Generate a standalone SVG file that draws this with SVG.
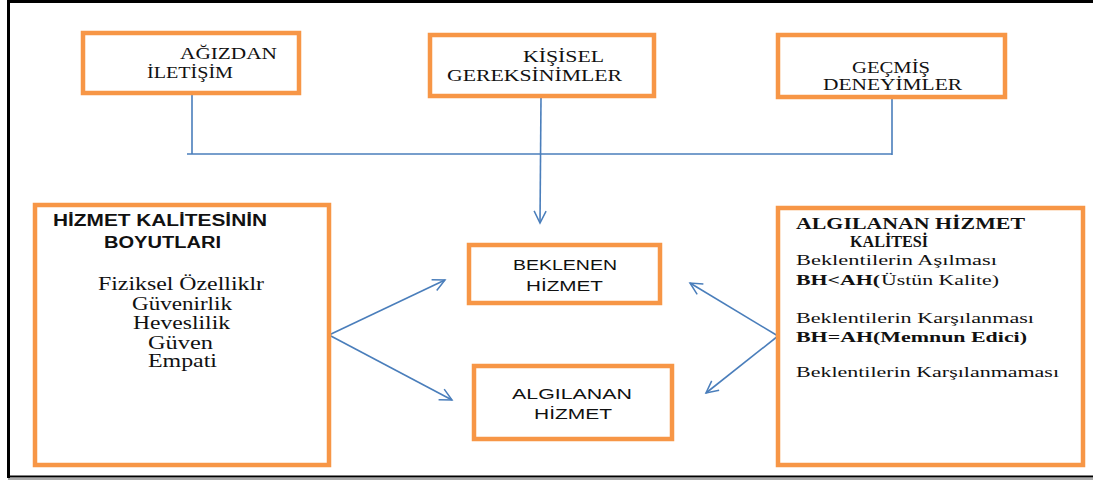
<svg xmlns="http://www.w3.org/2000/svg" width="1093" height="482" viewBox="0 0 1093 482">
  <defs>
    <marker id="arrow" markerUnits="userSpaceOnUse" markerWidth="16" markerHeight="16" refX="13" refY="7" orient="auto">
      <path d="M1,1 L13,7 L1,13" fill="none" stroke="#4A7EBB" stroke-width="1.5"/>
    </marker>
    <style>
      .box { fill: #ffffff; stroke: #F79646; stroke-width: 4.5; }
      .link { fill: none; stroke: #4A7EBB; stroke-width: 1.6; }
      .serif { font-family: "Liberation Serif", "Times New Roman", serif; fill: #111; }
      .sans { font-family: "Liberation Sans", Arial, sans-serif; fill: #111; }
      .b { font-weight: bold; }
    </style>
  </defs>

  <rect width="1093" height="482" fill="#ffffff"/>

  <!-- page frame -->
  <g id="frame">
    <line x1="8" y1="1.5" x2="1093" y2="1.5" stroke="#000" stroke-width="3"/>
    <line x1="8.5" y1="0" x2="8.5" y2="478" stroke="#000" stroke-width="3"/>
    <line x1="8" y1="476.5" x2="1093" y2="476.5" stroke="#000" stroke-width="2"/>
    <line x1="8" y1="479" x2="1093" y2="479" stroke="#555" stroke-width="1.2"/>
  </g>

  <!-- connectors -->
  <g id="connectors">
    <polyline class="link" points="192,95 192,154"/>
    <line class="link" x1="187" y1="154" x2="892" y2="154"/>
    <polyline class="link" points="892,99 892,155"/>
    <line class="link" x1="541" y1="98" x2="540" y2="223" marker-end="url(#arrow)"/>
    <line class="link" x1="329" y1="335" x2="445" y2="280" marker-end="url(#arrow)"/>
    <line class="link" x1="329" y1="335" x2="452" y2="400" marker-end="url(#arrow)"/>
    <line class="link" x1="778" y1="336" x2="690" y2="283" marker-end="url(#arrow)"/>
    <line class="link" x1="778" y1="336" x2="706" y2="393" marker-end="url(#arrow)"/>
  </g>

  <g id="agizdan-iletisim">
    <rect class="box" x="83" y="33" width="216" height="60"/>
    <text class="serif" x="180" y="59" font-size="16" textLength="97" lengthAdjust="spacingAndGlyphs">AĞIZDAN</text>
    <text class="serif" x="147" y="78" font-size="16" textLength="86" lengthAdjust="spacingAndGlyphs">İLETİŞİM</text>
  </g>

  <g id="kisisel-gereksinimler">
    <rect class="box" x="430" y="35" width="224" height="61"/>
    <text class="serif" x="523" y="62" font-size="16" textLength="81" lengthAdjust="spacingAndGlyphs">KİŞİSEL</text>
    <text class="serif" x="447" y="81" font-size="16" textLength="175" lengthAdjust="spacingAndGlyphs">GEREKSİNİMLER</text>
  </g>

  <g id="gecmis-deneyimler">
    <rect class="box" x="778" y="35" width="227" height="62"/>
    <text class="serif" x="852" y="73" font-size="16" textLength="78" lengthAdjust="spacingAndGlyphs">GEÇMİŞ</text>
    <text class="serif" x="823" y="90" font-size="16" textLength="139" lengthAdjust="spacingAndGlyphs">DENEYİMLER</text>
  </g>

  <g id="hizmet-kalitesi-boyutlari">
    <rect class="box" x="35" y="205" width="294" height="260"/>
    <text class="sans b" x="53" y="226" font-size="16" textLength="214" lengthAdjust="spacingAndGlyphs">HİZMET KALİTESİNİN</text>
    <text class="sans b" x="104" y="248" font-size="16" textLength="117" lengthAdjust="spacingAndGlyphs">BOYUTLARI</text>
    <text class="serif" x="98" y="290" font-size="18" textLength="166" lengthAdjust="spacingAndGlyphs">Fiziksel Özelliklr</text>
    <text class="serif" x="132" y="310" font-size="18" textLength="100" lengthAdjust="spacingAndGlyphs">Güvenirlik</text>
    <text class="serif" x="133" y="329" font-size="18" textLength="97" lengthAdjust="spacingAndGlyphs">Heveslilik</text>
    <text class="serif" x="148" y="349" font-size="18" textLength="65" lengthAdjust="spacingAndGlyphs">Güven</text>
    <text class="serif" x="148" y="367" font-size="18" textLength="69" lengthAdjust="spacingAndGlyphs">Empati</text>
  </g>

  <g id="beklenen-hizmet">
    <rect class="box" x="469" y="245" width="191" height="58"/>
    <text class="sans" x="513" y="270" font-size="15" textLength="104" lengthAdjust="spacingAndGlyphs">BEKLENEN</text>
    <text class="sans" x="526" y="291" font-size="15" textLength="77" lengthAdjust="spacingAndGlyphs">HİZMET</text>
  </g>

  <g id="algilanan-hizmet">
    <rect class="box" x="474" y="366" width="198" height="73"/>
    <text class="sans" x="512" y="399" font-size="15" textLength="120" lengthAdjust="spacingAndGlyphs">ALGILANAN</text>
    <text class="sans" x="534" y="419" font-size="15" textLength="78" lengthAdjust="spacingAndGlyphs">HİZMET</text>
  </g>

  <g id="algilanan-hizmet-kalitesi">
    <rect class="box" x="778" y="208" width="305" height="257"/>
    <text class="serif b" x="796" y="229" font-size="16" textLength="229" lengthAdjust="spacingAndGlyphs">ALGILANAN  HİZMET</text>
    <text class="serif b" x="850" y="247" font-size="16" textLength="78" lengthAdjust="spacingAndGlyphs">KALİTESİ</text>
    <text class="serif" x="796" y="265" font-size="15" textLength="201" lengthAdjust="spacingAndGlyphs">Beklentilerin  Aşılması</text>
    <text class="serif b" x="796" y="285" font-size="15" textLength="84" lengthAdjust="spacingAndGlyphs">BH&lt;AH(</text>
    <text class="serif" x="881" y="285" font-size="15" textLength="118" lengthAdjust="spacingAndGlyphs">Üstün  Kalite)</text>
    <text class="serif" x="796" y="323" font-size="15" textLength="238" lengthAdjust="spacingAndGlyphs">Beklentilerin  Karşılanması</text>
    <text class="serif b" x="796" y="342" font-size="15" textLength="231" lengthAdjust="spacingAndGlyphs">BH=AH(Memnun  Edici)</text>
    <text class="serif" x="796" y="377" font-size="15" textLength="263" lengthAdjust="spacingAndGlyphs">Beklentilerin  Karşılanmaması</text>
  </g>
</svg>
